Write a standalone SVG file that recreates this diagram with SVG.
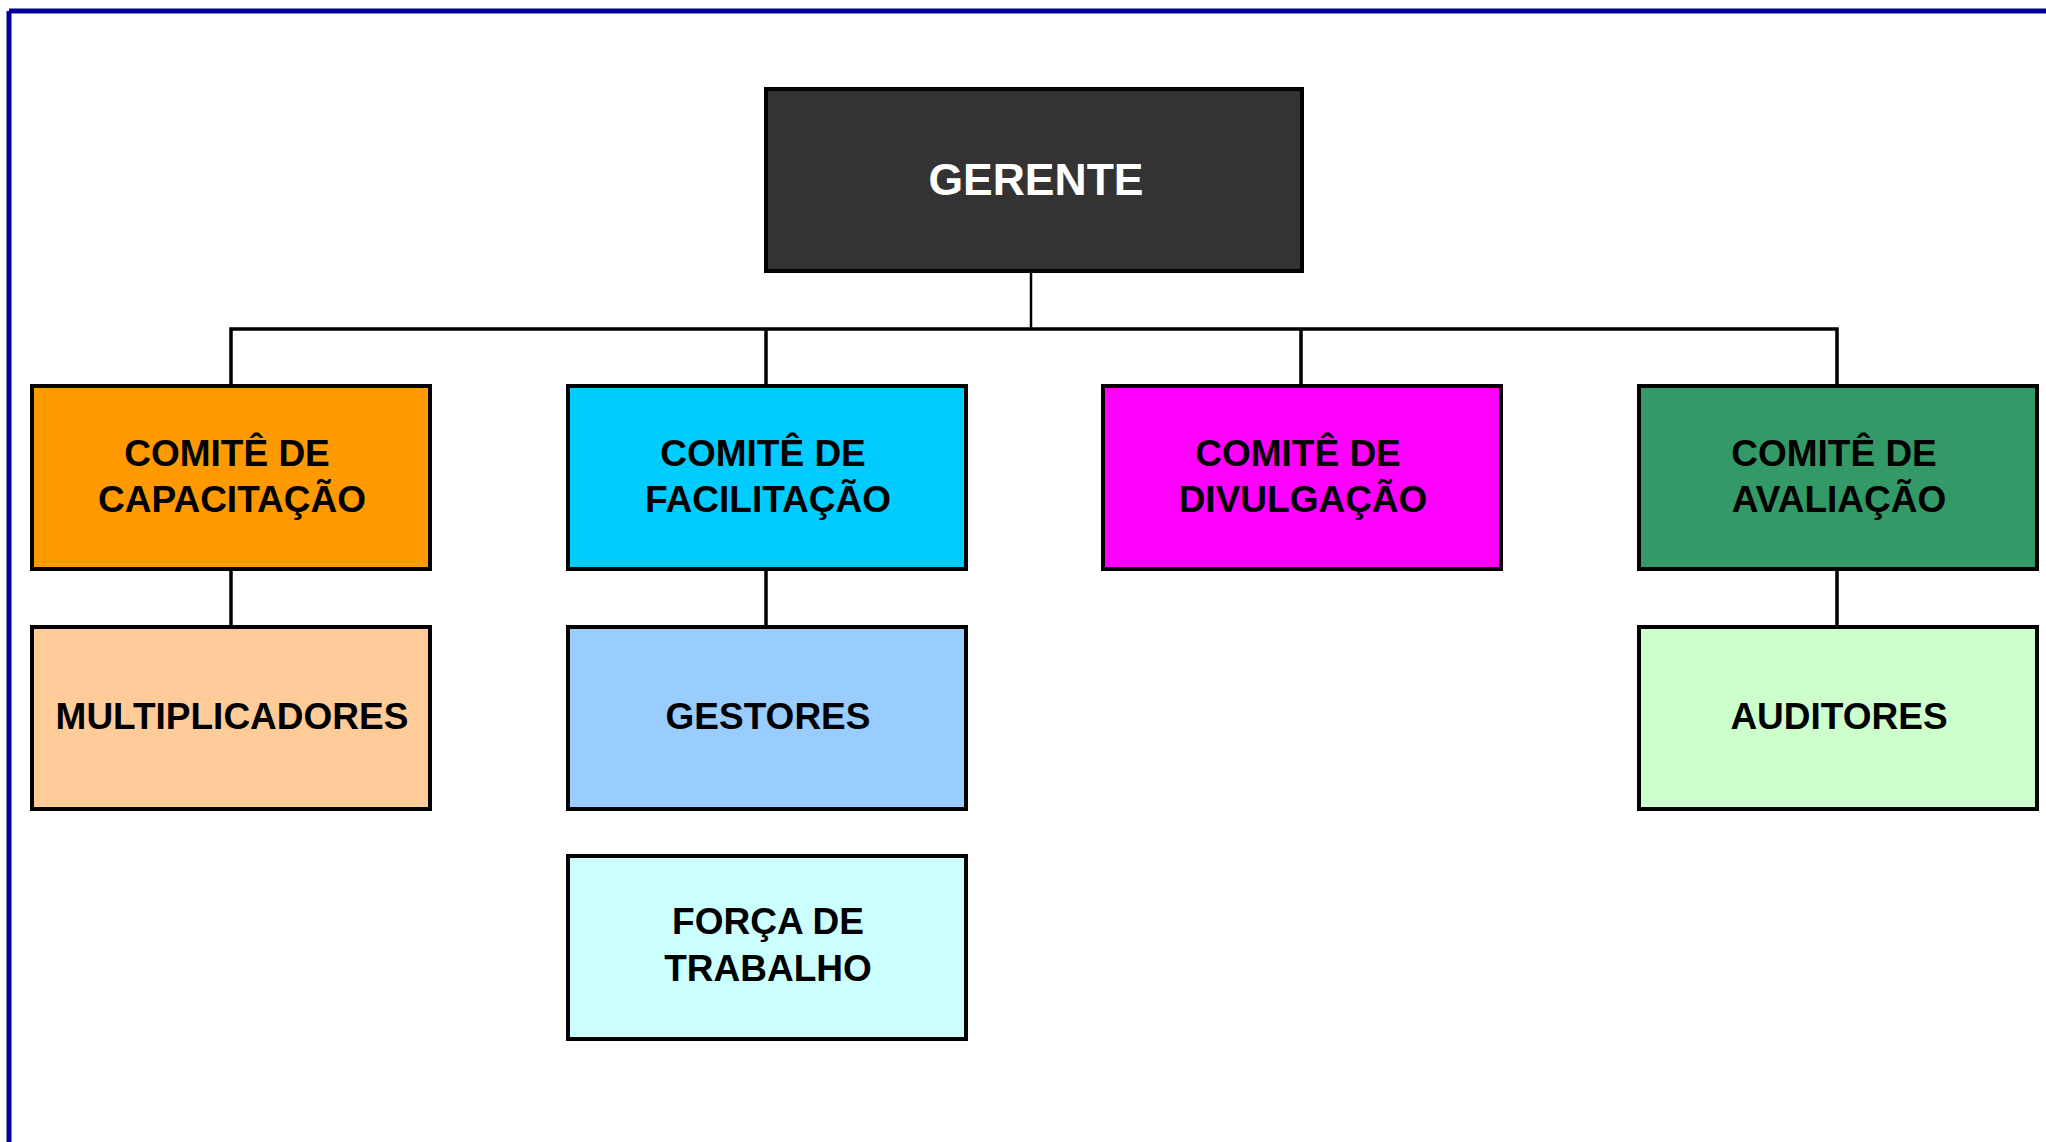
<svg xmlns="http://www.w3.org/2000/svg" width="2046" height="1142" viewBox="0 0 2046 1142">
<style>
.box{stroke:#000;stroke-width:4}
.t{font-family:"Liberation Sans",Arial,sans-serif;font-weight:bold;font-size:37px;text-anchor:middle;fill:#000}
.w{fill:#fff;font-size:44.5px}
.c{stroke:#000;stroke-width:3.5;fill:none}
</style>
<rect width="2046" height="1142" fill="#fff"/>
<g id="frame">
<line x1="9" y1="11" x2="2046" y2="11" stroke="#000099" stroke-width="5"/>
<line x1="9" y1="11" x2="9" y2="1142" stroke="#000099" stroke-width="5"/>
</g>
<g id="connectors">
<line class="c" x1="1031" y1="271" x2="1031" y2="329" style="stroke-width:2.5"/>
<polyline class="c" points="231,385 231,329 1837,329 1837,385"/>
<line class="c" x1="766" y1="329" x2="766" y2="385"/>
<line class="c" x1="1301" y1="329" x2="1301" y2="385"/>
<line class="c" x1="231" y1="569" x2="231" y2="626"/>
<line class="c" x1="766" y1="569" x2="766" y2="626"/>
<line class="c" x1="1837" y1="569" x2="1837" y2="626"/>
</g>
<g id="gerente">
<rect class="box" x="766" y="89" width="536" height="182" fill="#333333"/>
<text class="t w" x="1036" y="195">GERENTE</text>
</g>
<g id="capacitacao">
<rect class="box" x="32" y="386" width="398" height="183" fill="#FF9900"/>
<text class="t" x="227" y="466">COMITÊ DE</text>
<text class="t" x="232" y="512">CAPACITAÇÃO</text>
</g>
<g id="facilitacao">
<rect class="box" x="568" y="386" width="398" height="183" fill="#00CCFF"/>
<text class="t" x="763" y="466">COMITÊ DE</text>
<text class="t" x="768" y="512">FACILITAÇÃO</text>
</g>
<g id="divulgacao">
<rect class="box" x="1103" y="386" width="398" height="183" fill="#FF00FF"/>
<text class="t" x="1298" y="466">COMITÊ DE</text>
<text class="t" x="1303" y="512">DIVULGAÇÃO</text>
</g>
<g id="avaliacao">
<rect class="box" x="1639" y="386" width="398" height="183" fill="#339966"/>
<text class="t" x="1834" y="466">COMITÊ DE</text>
<text class="t" x="1839" y="512">AVALIAÇÃO</text>
</g>
<g id="multiplicadores">
<rect class="box" x="32" y="627" width="398" height="182" fill="#FFCC99"/>
<text class="t" x="232" y="729">MULTIPLICADORES</text>
</g>
<g id="gestores">
<rect class="box" x="568" y="627" width="398" height="182" fill="#99CCFF"/>
<text class="t" x="768" y="729">GESTORES</text>
</g>
<g id="auditores">
<rect class="box" x="1639" y="627" width="398" height="182" fill="#CCFFCC"/>
<text class="t" x="1839" y="729">AUDITORES</text>
</g>
<g id="forca">
<rect class="box" x="568" y="856" width="398" height="183" fill="#CCFFFF"/>
<text class="t" x="768" y="934">FORÇA DE</text>
<text class="t" x="768" y="981">TRABALHO</text>
</g>
</svg>
